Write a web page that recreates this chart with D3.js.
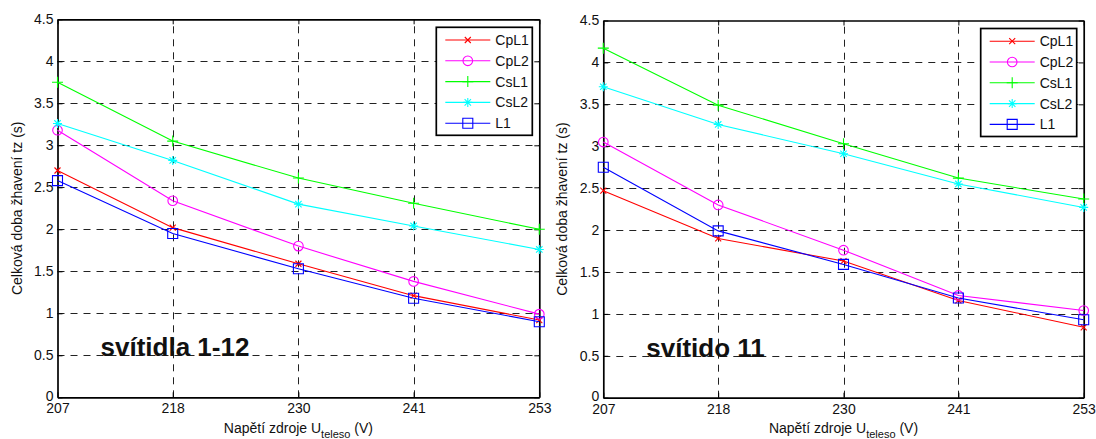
<!DOCTYPE html>
<html>
<head>
<meta charset="utf-8">
<script src="https://cdn.jsdelivr.net/npm/d3@7"></script>
<style>
  html, body { margin: 0; padding: 0; background: #fff; }
  svg { display: block; font-family: "Liberation Sans", Arial, Helvetica, sans-serif; }
</style>
</head>
<body>
<svg id="chart" width="1096" height="439"></svg>
<script>
// Supply voltage ticks (V) and heating-time ticks (s)
const voltages = [207, 218, 230, 241, 253];
const timeTicks = [0, 0.5, 1, 1.5, 2, 2.5, 3, 3.5, 4, 4.5];

const seriesNames = ["CpL1", "CpL2", "CsL1", "CsL2", "L1"];
const seriesColors = ["#ff0000", "#ff00ff", "#00ff00", "#00ffff", "#0000ff"];
const seriesMarkers = ["x", "circle", "plus", "star", "square"];

// Luminaires 1-12: total heating time tz (s)
const lamps112CpL1 = [2.70, 2.02, 1.59, 1.21, 0.92];
const lamps112CpL2 = [3.18, 2.34, 1.80, 1.38, 0.99];
const lamps112CsL1 = [3.75, 3.05, 2.61, 2.31, 2.00];
const lamps112CsL2 = [3.26, 2.82, 2.30, 2.04, 1.76];
const lamps112L1   = [2.58, 1.95, 1.53, 1.18, 0.90];

// Luminaire 11: total heating time tz (s)
const lamp11CpL1 = [2.47, 1.90, 1.63, 1.16, 0.84];
const lamp11CpL2 = [3.05, 2.30, 1.76, 1.22, 1.04];
const lamp11CsL1 = [4.17, 3.49, 3.03, 2.62, 2.37];
const lamp11CsL2 = [3.71, 3.26, 2.91, 2.55, 2.27];
const lamp11L1   = [2.75, 1.99, 1.59, 1.19, 0.93];

const panels = [
  {
    label: "svítidla 1-12",
    series: [lamps112CpL1, lamps112CpL2, lamps112CsL1, lamps112CsL2, lamps112L1],
    box: { left: 57.5, right: 539.3, top: 19.3, bottom: 397.3 }
  },
  {
    label: "svítido 11",
    series: [lamp11CpL1, lamp11CpL2, lamp11CsL1, lamp11CsL2, lamp11L1],
    box: { left: 603.3, right: 1083.7, top: 20.5, bottom: 397.7 }
  }
];

const svg = d3.select("#chart");

function markerPath(type) {
  const p = d3.path();
  if (type === "x") {
    const s = 3;
    p.moveTo(-s, -s); p.lineTo(s, s);
    p.moveTo(-s, s); p.lineTo(s, -s);
  } else if (type === "plus") {
    const s = 5.5;
    p.moveTo(-s, 0); p.lineTo(s, 0);
    p.moveTo(0, -s); p.lineTo(0, s);
  } else if (type === "star") {
    const s = 4.5, d = 3.2;
    p.moveTo(-s, 0); p.lineTo(s, 0);
    p.moveTo(0, -s); p.lineTo(0, s);
    p.moveTo(-d, -d); p.lineTo(d, d);
    p.moveTo(-d, d); p.lineTo(d, -d);
  } else if (type === "square") {
    const s = 5;
    p.rect(-s, -s, 2 * s, 2 * s);
  } else if (type === "circle") {
    p.moveTo(4.8, 0);
    p.arc(0, 0, 4.8, 0, 2 * Math.PI);
  }
  return p.toString();
}

function drawPanel(panel) {
  const b = panel.box;
  const x = d3.scaleLinear().domain([207, 253]).range([b.left, b.right]);
  const y = d3.scaleLinear().domain([0, 4.5]).range([b.bottom, b.top]);
  const g = svg.append("g");

  // dashed grid
  const grid = g.append("g")
    .attr("stroke", "#222")
    .attr("stroke-width", 1)
    .attr("stroke-dasharray", "7,6")
    .attr("fill", "none");
  grid.selectAll("line.v")
    .data(voltages.slice(1, -1))
    .join("line")
    .attr("x1", d => Math.round(x(d)) + 0.5).attr("x2", d => Math.round(x(d)) + 0.5)
    .attr("y1", b.bottom).attr("y2", b.top);
  grid.selectAll("line.h")
    .data(timeTicks.slice(1, -1))
    .join("line")
    .attr("y1", d => Math.round(y(d)) + 0.5).attr("y2", d => Math.round(y(d)) + 0.5)
    .attr("x1", b.left).attr("x2", b.right);

  // axes with inward ticks
  const fmt = d => String(d);
  const axL = g.append("g").attr("transform", `translate(${b.left},0)`)
    .call(d3.axisLeft(y).tickValues(timeTicks).tickFormat(fmt).tickSizeInner(-5).tickSizeOuter(0).tickPadding(4));
  const axB = g.append("g").attr("transform", `translate(0,${b.bottom})`)
    .call(d3.axisBottom(x).tickValues(voltages).tickFormat(fmt).tickSizeInner(-5).tickSizeOuter(0).tickPadding(4));
  const axR = g.append("g").attr("transform", `translate(${b.right},0)`)
    .call(d3.axisRight(y).tickValues(timeTicks).tickFormat("").tickSizeInner(-5).tickSizeOuter(0));
  const axT = g.append("g").attr("transform", `translate(0,${b.top})`)
    .call(d3.axisTop(x).tickValues(voltages).tickFormat("").tickSizeInner(-5).tickSizeOuter(0));
  [axL, axB, axR, axT].forEach(a => {
    a.select(".domain").attr("stroke", "#000").attr("stroke-width", 1.7);
    a.selectAll(".tick line").attr("stroke", "#000").attr("stroke-width", 1);
    a.selectAll("text").attr("fill", "#111").attr("font-size", 14)
      .attr("font-family", "'Liberation Sans', Arial, sans-serif");
  });
  axB.selectAll("text").attr("dy", "0.8em").attr("y", 5);
  // lift the zero label a touch so it sits clear of the first voltage label
  axL.selectAll(".tick").filter(d => d === 0).select("text").attr("dy", "0.2em");

  // annotation
  g.append("text")
    .attr("x", x(207) + 43).attr("y", b.bottom - 41)
    .attr("font-size", 26).attr("font-weight", "bold").attr("fill", "#111")
    .text(panel.label);

  // series lines and markers
  const line = d3.line().x((d, i) => x(voltages[i])).y(d => y(d));
  panel.series.forEach((vals, si) => {
    const sg = g.append("g");
    sg.append("path")
      .attr("d", line(vals))
      .attr("fill", "none")
      .attr("stroke", seriesColors[si])
      .attr("stroke-width", 1.1);
    sg.selectAll("path.m")
      .data(vals)
      .join("path")
      .attr("class", "m")
      .attr("transform", (d, i) => `translate(${x(voltages[i])},${y(d)})`)
      .attr("d", markerPath(seriesMarkers[si]))
      .attr("fill", "none")
      .attr("stroke", seriesColors[si])
      .attr("stroke-width", 1.1);
  });

  // legend
  const lw = 96, lh = 108;
  const lx = b.right - 7 - lw, ly = b.top + 8;
  const lg = g.append("g").attr("transform", `translate(${lx},${ly})`);
  lg.append("rect").attr("width", lw).attr("height", lh)
    .attr("fill", "#fff").attr("stroke", "#000").attr("stroke-width", 1.7);
  seriesNames.forEach((name, si) => {
    const ry = 12.7 + si * 20.8;
    lg.append("line").attr("x1", 9).attr("x2", 54).attr("y1", ry).attr("y2", ry)
      .attr("stroke", seriesColors[si]).attr("stroke-width", 1.1);
    lg.append("path").attr("transform", `translate(31.5,${ry})`)
      .attr("d", markerPath(seriesMarkers[si]))
      .attr("fill", "none").attr("stroke", seriesColors[si]).attr("stroke-width", 1.1);
    lg.append("text").attr("x", 59).attr("y", ry).attr("dy", "0.36em")
      .attr("font-size", 14).attr("fill", "#111").text(name);
  });

  // axis titles
  g.append("text")
    .attr("transform", `translate(${b.left - 36},${(b.top + b.bottom) / 2}) rotate(-90)`)
    .attr("text-anchor", "middle").attr("font-size", 14).attr("fill", "#111")
    .text("Celková doba žhavení tz (s)");
  const xt = g.append("text")
    .attr("x", (b.left + b.right) / 2).attr("y", 433)
    .attr("text-anchor", "middle").attr("font-size", 14).attr("fill", "#111");
  xt.append("tspan").text("Napětí zdroje U");
  xt.append("tspan").attr("font-size", 11).attr("dy", 5).text("teleso");
  xt.append("tspan").attr("dy", -5).text(" (V)");
}

panels.forEach(drawPanel);
</script>
</body>
</html>
